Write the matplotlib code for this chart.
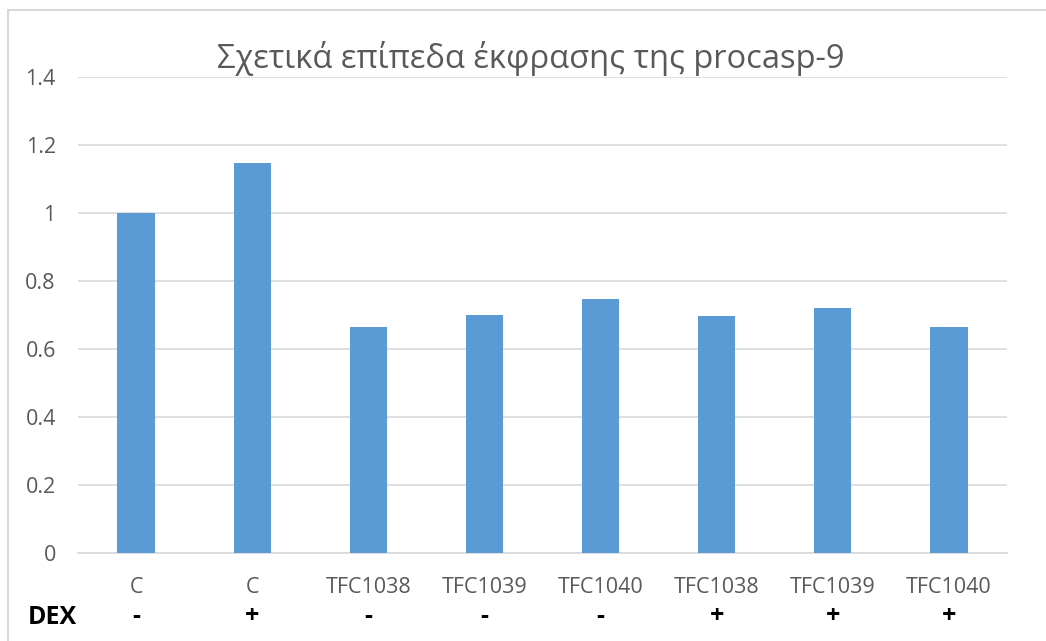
import numpy as np
import matplotlib
matplotlib.use('Agg')
import matplotlib.pyplot as plt
from matplotlib.patches import Rectangle

plt.rcParams['font.family'] = ['Open Sans', 'DejaVu Sans']

# datos
categorias = ['C', 'C', 'TFC1038', 'TFC1039', 'TFC1040', 'TFC1038', 'TFC1039', 'TFC1040']
dex = ['-', '+', '-', '-', '-', '+', '+', '+']
valores = [1.0, 1.147, 0.666, 0.70, 0.747, 0.698, 0.72, 0.666]
yticks = [0, 0.2, 0.4, 0.6, 0.8, 1, 1.2, 1.4]
ytick_labels = ['0', '0.2', '0.4', '0.6', '0.8', '1', '1.2', '1.4']

fig = plt.figure(figsize=(10.46, 6.41), dpi=100)
ax = fig.add_axes([78 / 1046, 1 - 553 / 641, 929 / 1046, 476 / 641])

x = np.arange(len(categorias))
ax.bar(x, valores, width=0.32, color='#5B9BD5', zorder=3)

ax.set_xlim(-0.5, len(categorias) - 0.5)
ax.set_ylim(0, 1.4)
ax.set_yticks(yticks)
ax.set_yticklabels(ytick_labels)
ax.yaxis.grid(True, color='#D9D9D9', linewidth=1.2, zorder=0)
ax.set_axisbelow(True)
for s in ['top', 'right', 'left']:
    ax.spines[s].set_visible(False)
ax.spines['bottom'].set_color('#D9D9D9')
ax.spines['bottom'].set_linewidth(1.2)
ax.tick_params(axis='both', length=0, labelsize=15.5, labelcolor='#595959')
ax.tick_params(axis='y', pad=16)
ax.tick_params(axis='x', pad=17)
ax.set_xticks(x)
ax.set_xticklabels(categorias)

# fila DEX
for xi, d in zip(x, dex):
    ax.text(xi, -64 / 476, d, ha='center', va='center', fontsize=18,
            fontweight='bold', color='black', transform=ax.get_xaxis_transform())
fig.text(52 / 1046, 1 - 617 / 641, 'DEX', ha='center', va='center',
         fontsize=18, fontweight='bold', color='black')

fig.text(531 / 1046, 1 - 58 / 641, 'Σχετικά επίπεδα έκφρασης της procasp-9',
         ha='center', va='center', fontsize=23.5, color='#595959')

# marco del grafico
fig.patches.append(Rectangle((8 / 1046, -0.1), 1.2, 1 - 10 / 641 + 0.1,
                             transform=fig.transFigure, fill=False,
                             edgecolor='#D9D9D9', linewidth=1.5))

fig.savefig('out.png', dpi=100, facecolor='white')
